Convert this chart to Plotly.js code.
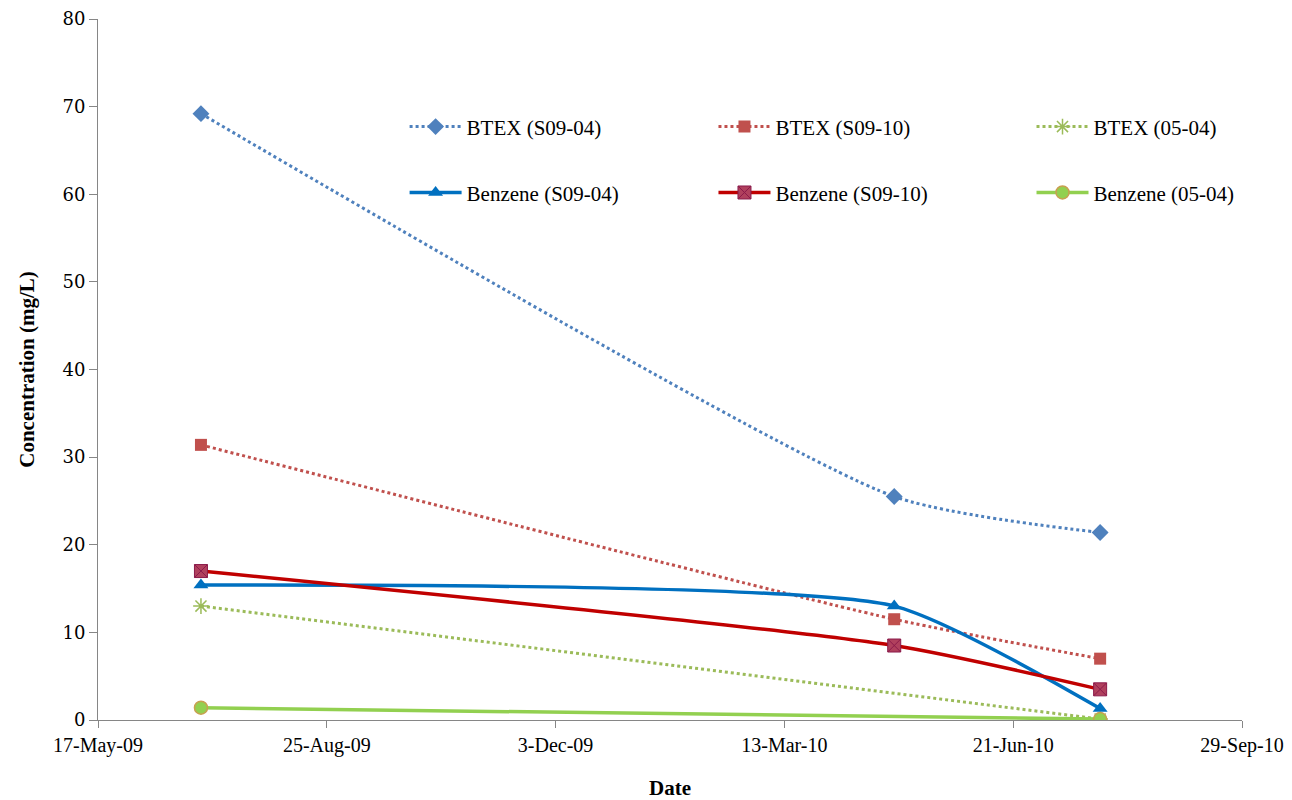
<!DOCTYPE html>
<html>
<head>
<meta charset="utf-8">
<script src="https://cdn.plot.ly/plotly-3.0.1.min.js"></script>
<style>html,body{margin:0;padding:0;background:#fff;}#chart{width:1292px;height:800px;}</style>
</head>
<body>
<div id="chart"></div>
<script>
const dates3 = ['2009-07-01', '2010-04-30', '2010-07-29'];
const dates2 = ['2009-07-01', '2010-07-29'];

const btexS0904 = [69.2, 25.5, 21.4];
const btexS0910 = [31.4, 11.5, 7.0];
const btex0504 = [13.0, 0.1];
const benzS0904 = [15.4, 13.0, 1.3];
const benzS0910 = [17.0, 8.5, 3.5];
const benz0504 = [1.4, 0.1];

const xTickVals = ['2009-05-17', '2009-08-25', '2009-12-03', '2010-03-13', '2010-06-21', '2010-09-29'];
const xTickText = ['17-May-09', '25-Aug-09', '3-Dec-09', '13-Mar-10', '21-Jun-10', '29-Sep-10'];

const serif = 'Liberation Serif, Times New Roman, serif';
const wideSerif = 'DejaVu Serif, serif';

const traces = [
  {x: dates3, y: btexS0904, name: 'BTEX (S09-04)', mode: 'lines+markers', legend: 'legend',
   line: {color: '#4F81BD', width: 3, dash: 'dot', shape: 'spline', smoothing: 0.6},
   marker: {symbol: 'diamond', size: 13, color: '#4F81BD'}},
  {x: dates3, y: btexS0910, name: 'BTEX (S09-10)', mode: 'lines+markers', legend: 'legend2',
   line: {color: '#C0504D', width: 3, dash: 'dot', shape: 'spline', smoothing: 0.6},
   marker: {symbol: 'square', size: 12, color: '#C0504D'}},
  {x: dates2, y: btex0504, name: 'BTEX (05-04)', mode: 'lines+markers', legend: 'legend3',
   line: {color: '#9BBB59', width: 3, dash: 'dot', shape: 'spline', smoothing: 0.6},
   marker: {symbol: 'asterisk-open', size: 13, color: '#9BBB59', line: {color: '#9BBB59', width: 1.5}}},
  {x: dates3, y: benzS0904, name: 'Benzene (S09-04)', mode: 'lines+markers', legend: 'legend4',
   line: {color: '#0070C0', width: 3.5, shape: 'spline', smoothing: 0.55},
   marker: {symbol: 'triangle-up', size: 13, color: '#0070C0'}},
  {x: dates3, y: benzS0910, name: 'Benzene (S09-10)', mode: 'lines+markers', legend: 'legend5',
   line: {color: '#C00000', width: 3.5, shape: 'spline', smoothing: 0.6},
   marker: {symbol: 'square-x', size: 13, color: '#B0405D', line: {color: '#8B1A4A', width: 1}}},
  {x: dates2, y: benz0504, name: 'Benzene (05-04)', mode: 'lines+markers', legend: 'legend6',
   line: {color: '#92D050', width: 3.5, shape: 'spline', smoothing: 0.6},
   marker: {symbol: 'circle', size: 13, color: '#92D050', line: {color: '#C8A050', width: 1.5}}}
];

function leg(x, y) {
  return {
    orientation: 'h', xanchor: 'left', yanchor: 'middle', x: x, y: y,
    bgcolor: 'rgba(0,0,0,0)', font: {family: serif, size: 21, color: '#000'},
    itemwidth: 52
  };
}

const layout = {
  width: 1292, height: 800,
  paper_bgcolor: '#fff', plot_bgcolor: '#fff',
  margin: {l: 98, r: 50, t: 19, b: 80},
  font: {family: serif, color: '#000'},
  xaxis: {
    type: 'date', range: ['2009-05-17', '2010-09-29'],
    tickvals: xTickVals, ticktext: xTickText,
    showgrid: false, zeroline: false, showline: true, linecolor: '#868686', linewidth: 1,
    ticks: 'outside', ticklen: 7, tickcolor: '#868686',
    tickfont: {family: serif, size: 20, color: '#000'},
    title: {text: '<b>Date</b>', font: {family: serif, size: 21, color: '#000'}, standoff: 26}
  },
  yaxis: {
    range: [0, 80], dtick: 10,
    showgrid: false, zeroline: false, showline: true, linecolor: '#868686', linewidth: 1,
    ticks: 'outside', ticklen: 8, tickcolor: '#868686',
    tickfont: {family: wideSerif, size: 18, color: '#000'},
    title: {text: '<b>Concentration (mg/L)</b>', font: {family: serif, size: 21, color: '#000'}, standoff: 22}
  },
  showlegend: true,
  legend: leg(0.268, 0.846),
  legend2: leg(0.538, 0.846),
  legend3: leg(0.816, 0.846),
  legend4: leg(0.268, 0.752),
  legend5: leg(0.538, 0.752),
  legend6: leg(0.816, 0.752)
};

Plotly.newPlot('chart', traces, layout, {displayModeBar: false, staticPlot: true});
</script>
</body>
</html>
